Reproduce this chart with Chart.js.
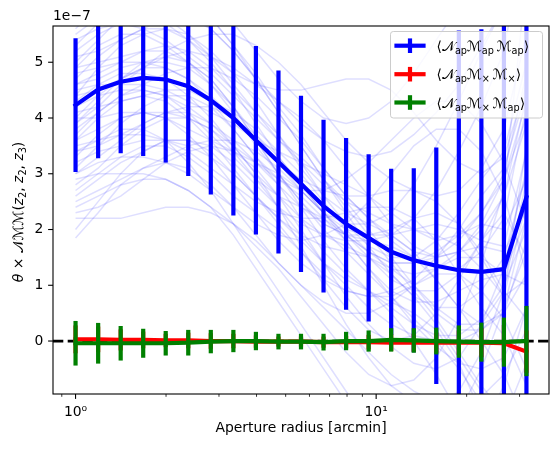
<!DOCTYPE html>
<html>
<head>
<meta charset="utf-8">
<script src="https://cdn.jsdelivr.net/npm/chart.js@4.4.1/dist/chart.umd.min.js"></script>
<style>
  html, body { margin: 0; padding: 0; background: #fff; }
  #wrap { width: 558px; height: 452px; }
</style>
</head>
<body>
<div id="wrap"><canvas id="chart" width="558" height="452"></canvas></div>
<script>
// aperture radii [arcmin]
const radii = [1.000, 1.189, 1.413, 1.679, 1.995, 2.371, 2.818, 3.350, 3.981, 4.732,
               5.623, 6.683, 7.943, 9.441, 11.22, 13.34, 15.85, 18.84, 22.39, 26.61, 31.62];

// all values in units of 1e-7
const mapMean = [4.23, 4.51, 4.65, 4.72, 4.69, 4.57, 4.32, 4.00, 3.60, 3.21,
                 2.82, 2.42, 2.10, 1.85, 1.60, 1.45, 1.35, 1.27, 1.24, 1.29, 2.58];
const mapErr = [1.20, 1.23, 1.28, 1.40, 1.49, 1.61, 1.69, 1.75, 1.69, 1.64,
                1.58, 1.55, 1.54, 1.50, 1.49, 1.65, 2.12, 4.30, 4.35, 4.60, 3.75];

const crossMean = [0.03, 0.03, 0.02, 0.02, 0.01, 0.01, 0.00, 0.00, -0.01, -0.01,
                   -0.01, -0.02, -0.02, -0.02, -0.03, -0.03, -0.03, -0.03, -0.03, -0.04, -0.19];
const crossErr = [0.25, 0.23, 0.19, 0.15, 0.12, 0.14, 0.14, 0.13, 0.11, 0.09,
                  0.09, 0.10, 0.11, 0.13, 0.15, 0.16, 0.18, 0.22, 0.26, 0.33, 0.38];

const mixMean = [-0.04, -0.04, -0.04, -0.04, -0.04, -0.03, -0.01, 0.00, 0.00, -0.01,
                 -0.01, -0.02, 0.00, 0.00, 0.02, 0.01, 0.00, -0.01, -0.02, -0.02, 0.00];
const mixErr = [0.40, 0.365, 0.31, 0.26, 0.22, 0.23, 0.21, 0.20, 0.165, 0.14,
                0.14, 0.15, 0.165, 0.19, 0.21, 0.22, 0.24, 0.29, 0.35, 0.44, 0.63];

// individual realisations drawn as faint lines
const realisations = [
  [5.6,6.0,6.3,6.4,6.3,6.1,5.8,5.3,4.8,4.2,3.7,3.1,2.6,2.2,1.9,1.6,1.5,1.6,2.0,2.6,3.9],
  [5.2,5.5,5.7,5.9,6.0,5.9,5.6,5.2,4.7,4.3,3.9,3.6,3.4,3.3,3.4,3.7,4.1,4.6,5.3,6.0,7.2],
  [4.9,5.3,5.5,5.5,5.3,5.0,4.6,4.1,3.5,3.0,2.5,2.0,1.6,1.2,0.8,0.4,0.0,-0.5,-1.1,-1.8,-2.6],
  [4.6,4.8,5.0,5.2,5.3,5.2,4.9,4.5,4.1,3.7,3.2,2.6,2.1,1.7,1.5,1.5,1.8,2.3,2.9,3.4,5.0],
  [4.4,4.9,5.3,5.5,5.6,5.5,5.2,4.8,4.3,3.7,3.1,2.6,2.3,2.1,1.9,1.6,1.1,0.6,0.3,0.5,1.8],
  [4.1,4.2,4.3,4.4,4.5,4.5,4.3,4.1,3.8,3.4,3.0,2.5,2.0,1.6,1.3,1.2,1.3,1.5,1.5,1.2,2.2],
  [3.9,4.3,4.7,5.0,5.1,5.0,4.7,4.2,3.6,3.0,2.5,2.1,1.9,1.9,2.0,2.2,2.3,2.1,1.6,0.9,0.4],
  [3.6,3.8,4.0,4.1,4.1,4.0,3.8,3.5,3.2,2.9,2.6,2.2,1.8,1.3,0.8,0.3,-0.1,-0.4,-0.5,-0.3,0.6],
  [3.3,3.7,4.0,4.1,4.0,3.7,3.3,2.8,2.3,1.8,1.4,1.1,0.9,0.8,0.9,1.1,1.5,2.0,2.6,3.1,4.5],
  [3.0,3.3,3.6,3.9,4.1,4.2,4.2,4.0,3.7,3.3,2.8,2.3,1.9,1.6,1.4,1.4,1.6,1.9,2.1,2.0,2.9],
  [2.8,3.1,3.5,3.8,4.0,4.0,3.8,3.4,2.9,2.4,1.9,1.4,1.0,0.6,0.3,0.1,0.0,0.0,0.2,0.6,1.6],
  [2.5,2.7,2.9,3.1,3.3,3.5,3.6,3.6,3.4,3.1,2.7,2.3,2.0,1.9,1.9,2.0,2.1,2.0,1.8,1.7,3.4],
  [2.2,2.2,2.2,2.3,2.4,2.4,2.3,2.1,1.8,1.4,1.0,0.6,0.2,-0.2,-0.6,-0.9,-1.1,-1.2,-1.0,-0.6,0.2],
  [1.85,2.3,2.8,3.1,3.2,3.1,2.8,2.4,1.9,1.4,1.0,0.7,0.5,0.5,0.7,1.0,1.2,1.2,0.9,0.4,-0.5],
  [5.5,5.8,6.0,6.0,5.8,5.5,5.1,4.6,4.1,3.6,3.2,2.8,2.5,2.3,2.1,2.0,1.9,1.7,1.3,0.8,2.5],
  [4.8,4.9,5.0,5.0,4.9,4.7,4.4,4.0,3.6,3.2,2.9,2.7,2.6,2.6,2.7,2.7,2.5,2.1,1.5,0.8,1.1],
  [4.3,4.6,4.8,4.8,4.7,4.4,4.0,3.5,3.0,2.6,2.2,1.9,1.7,1.5,1.2,0.8,0.3,-0.3,-0.9,-1.4,-0.4],
  [3.8,4.1,4.4,4.6,4.8,4.9,4.9,4.7,4.4,4.0,3.6,3.1,2.6,2.2,1.8,1.5,1.3,1.3,1.6,2.2,4.2],
  [3.5,3.6,3.7,3.7,3.6,3.4,3.1,2.8,2.5,2.3,2.2,2.2,2.3,2.4,2.4,2.2,1.8,1.2,0.6,0.1,-0.8],
  [5.0,5.4,5.8,6.1,6.2,6.1,5.8,5.3,4.7,4.1,3.5,2.9,2.3,1.7,1.2,0.8,0.6,0.6,0.9,1.5,3.0],
  [4.0,4.0,4.1,4.1,4.0,3.8,3.6,3.4,3.2,3.0,2.7,2.3,1.8,1.3,0.9,0.7,0.7,0.9,1.1,1.2,1.0],
  [2.6,2.9,3.2,3.4,3.6,3.6,3.5,3.2,2.8,2.4,2.1,1.9,1.8,1.8,1.7,1.5,1.1,0.6,0.0,-0.6,-1.5],
  [4.7,5.1,5.4,5.6,5.6,5.4,5.0,4.5,3.9,3.3,2.8,2.3,1.9,1.6,1.4,1.4,1.5,1.8,2.3,3.0,4.8],
  [3.2,3.4,3.5,3.6,3.6,3.5,3.3,3.0,2.6,2.1,1.6,1.2,0.9,0.8,0.8,1.0,1.3,1.6,1.7,1.6,2.4],
  [5.4,5.6,5.7,5.6,5.4,5.1,4.8,4.4,4.0,3.6,3.3,2.9,2.5,2.0,1.5,1.0,0.5,0.2,0.2,0.5,1.2],
  [4.5,4.6,4.6,4.6,4.5,4.3,4.1,3.9,3.6,3.4,3.2,3.0,2.8,2.6,2.3,2.0,1.8,1.9,2.3,2.9,4.0],
  [2.0,2.5,3.0,3.4,3.6,3.6,3.4,3.0,2.6,2.2,1.8,1.4,1.1,0.9,0.6,0.3,0.1,0.1,0.4,1.0,2.0],
  [3.7,4.1,4.4,4.5,4.4,4.1,3.7,3.3,2.9,2.6,2.4,2.2,1.9,1.5,1.1,0.9,0.9,1.2,1.8,2.6,4.4],
  [3.4,3.6,3.8,3.8,3.6,3.2,2.7,2.1,1.5,0.9,0.3,-0.3,-0.9,-1.5,-2.0,-2.3,-2.4,-2.2,-1.6,-0.8,0.6],
  [4.2,4.4,4.5,4.5,4.4,4.2,3.9,3.5,3.0,2.4,1.7,1.0,0.3,-0.3,-0.8,-1.1,-1.2,-0.9,-0.2,0.9,3.5],
  [2.9,3.0,3.0,3.0,2.9,2.7,2.4,2.1,1.7,1.3,0.8,0.3,-0.2,-0.6,-0.8,-0.7,-0.3,0.4,1.4,2.7,6.5],
  [5.3,5.7,6.1,6.4,6.5,6.4,6.1,5.7,5.2,4.7,4.3,4.0,3.9,4.0,4.3,4.8,5.4,6.0,6.5,6.8,8.0],
  [3.1,3.5,3.9,4.2,4.4,4.4,4.2,3.8,3.3,2.8,2.2,1.6,1.2,0.9,0.7,0.5,0.2,-0.4,-1.3,-2.4,-4.0],
  [4.6,4.7,4.9,5.0,5.0,4.9,4.6,4.2,3.7,3.2,2.7,2.3,2.1,2.1,2.3,2.8,3.5,4.3,5.2,6.0,6.8],
  [2.4,2.6,2.8,2.9,2.9,2.7,2.4,1.9,1.3,0.7,0.1,-0.5,-1.1,-1.6,-1.9,-2.0,-1.8,-1.3,-0.5,0.6,2.2],
  [3.9,4.2,4.6,4.9,5.2,5.4,5.5,5.5,5.3,5.0,4.6,4.1,3.6,3.2,2.9,2.7,2.6,2.7,3.1,3.8,5.5],
  [4.9,5.0,5.1,5.2,5.2,5.0,4.7,4.2,3.6,3.0,2.4,1.8,1.3,0.9,0.5,0.0,-0.6,-1.3,-2.0,-2.6,-1.0],
  [3.4,3.5,3.7,3.9,4.1,4.1,3.9,3.6,3.2,2.8,2.4,2.1,1.9,1.8,1.9,2.2,2.7,3.4,4.2,5.2,7.5],
  [5.7,5.9,6.0,5.9,5.7,5.4,5.1,4.8,4.6,4.5,4.5,4.6,4.7,4.7,4.5,4.1,3.6,3.2,3.0,3.3,4.6],
  [4.0,4.4,4.7,4.9,4.9,4.7,4.3,3.8,3.3,2.9,2.7,2.7,2.9,3.2,3.6,4.0,4.3,4.3,3.9,3.2,2.1],
  [2.3,2.4,2.6,2.9,3.2,3.4,3.5,3.4,3.1,2.6,2.0,1.4,0.8,0.3,-0.1,-0.4,-0.5,-0.3,0.3,1.3,3.1],
  [3.0,3.2,3.3,3.3,3.2,3.0,2.7,2.4,2.1,1.9,1.8,1.9,2.1,2.5,3.0,3.5,3.8,3.8,3.4,2.6,1.2],
  [5.1,5.2,5.4,5.6,5.8,5.8,5.6,5.2,4.7,4.1,3.5,2.9,2.4,1.9,1.4,0.9,0.4,-0.2,-0.8,-1.3,-2.0],
  [3.6,4.0,4.3,4.4,4.3,4.0,3.6,3.1,2.6,2.2,1.9,1.7,1.6,1.5,1.3,1.0,0.6,0.3,0.3,0.9,2.9],
  [4.4,4.5,4.7,4.9,5.1,5.2,5.1,4.9,4.6,4.3,4.0,3.6,3.1,2.6,2.1,1.7,1.5,1.6,2.1,2.9,4.3],
  [2.7,3.0,3.3,3.5,3.5,3.3,3.0,2.6,2.3,2.0,1.6,1.1,0.6,0.2,0.0,0.1,0.5,1.1,1.8,2.3,1.5]
];

const xMajorTicks = [1, 10];
const xTickLabels = ['10\u2070', '10\u00b9'];
const xMinorTicks = [0.9, 2, 3, 4, 5, 6, 7, 8, 9, 20, 30];
const yTicks = [0, 1, 2, 3, 4, 5];
const yTickLabels = ['0', '1', '2', '3', '4', '5'];
const yOffsetText = '1e\u22127';
const xTitle = 'Aperture radius [arcmin]';
const yTitle = '*θ* × 𝒩ℳℳ(*z*_{2}, *z*_{2}, *z*_{3})';
const seriesLabels = [
  '⟨𝒩_{ap}ℳ_{ap}\u2009ℳ_{ap}⟩',
  '⟨𝒩_{ap}ℳ_{×}\u2009ℳ_{×}⟩',
  '⟨𝒩_{ap}ℳ_{×}\u2009ℳ_{ap}⟩'
];
const seriesColors = ['#0000ff', '#ff0000', '#008000'];

const xMin = Math.pow(10, -0.075), xMax = Math.pow(10, 1.575);
const yMin = -0.95, yMax = 5.65;
const FS = 13.9;

Chart.defaults.font.family = "'DejaVu Sans', sans-serif";
Chart.defaults.font.size = FS;
Chart.defaults.color = '#000';

const datasets = [];
realisations.forEach((r, k) => datasets.push({
  type: 'line', label: 'realisation ' + (k + 1),
  data: radii.map((x, i) => ({ x: x, y: r[i] })),
  borderColor: 'rgba(0,0,255,0.13)', borderWidth: 1.5,
  pointRadius: 0, tension: 0, order: 100
}));
datasets.push({
  type: 'line', label: 'zero',
  data: [{ x: xMin, y: 0 }, { x: xMax, y: 0 }],
  borderColor: '#000', borderWidth: 2.8, borderDash: [10.3, 4.4],
  pointRadius: 0, order: 60
});
[[mapMean, mapErr], [crossMean, crossErr], [mixMean, mixErr]].forEach(([m, e], s) => {
  datasets.push({
    type: 'bar', label: seriesLabels[s] + ' errors',
    data: radii.map((x, i) => ({ x: x, y: [m[i] - e[i], m[i] + e[i]] })),
    backgroundColor: seriesColors[s], borderWidth: 0, inflateAmount: 0,
    barThickness: 4.2, grouped: false, order: 50 - 10 * s
  });
  datasets.push({
    type: 'line', label: seriesLabels[s],
    data: radii.map((x, i) => ({ x: x, y: m[i] })),
    borderColor: seriesColors[s], borderWidth: 4.2, borderJoinStyle: 'round',
    borderCapStyle: 'square', pointRadius: 0, tension: 0, order: 49 - 10 * s
  });
});

// tiny mathtext: *italic*, _{subscript}
function parseMath(str) {
  const parts = [];
  const re = /_\{([^}]*)\}|\*([^*]+)\*|([^_*]+)/g;
  let m;
  while ((m = re.exec(str))) {
    if (m[1] !== undefined) parts.push({ t: m[1], sub: true });
    else if (m[2] !== undefined) parts.push({ t: m[2], it: true });
    else parts.push({ t: m[3] });
  }
  return parts;
}
function mathFont(p) {
  const s = p.sub ? FS * 0.7 : FS;
  return (p.it ? 'italic ' : '') + s.toFixed(1) + "px 'DejaVu Sans'";
}
function mathWidth(ctx, parts) {
  let w = 0;
  parts.forEach(p => { ctx.font = mathFont(p); w += ctx.measureText(p.t).width; });
  return w;
}
function drawMath(ctx, parts, x, y) {
  parts.forEach(p => {
    ctx.font = mathFont(p);
    ctx.fillText(p.t, x, y + (p.sub ? 3 : 0));
    x += ctx.measureText(p.t).width;
  });
}

const decor = {
  id: 'decor',
  afterDraw(chart) {
    const { ctx, chartArea: ca } = chart;
    const xs = chart.scales.x, ys = chart.scales.y;
    ctx.save();
    ctx.strokeStyle = '#000';
    ctx.fillStyle = '#000';
    const seg = (x0, y0, x1, y1, w) => {
      ctx.lineWidth = w; ctx.beginPath(); ctx.moveTo(x0, y0); ctx.lineTo(x1, y1); ctx.stroke();
    };
    // spines
    ctx.lineWidth = 1.1;
    ctx.strokeRect(ca.left, ca.top, ca.right - ca.left, ca.bottom - ca.top);
    // tick marks
    xMajorTicks.forEach(v => { const p = xs.getPixelForValue(v); seg(p, ca.bottom, p, ca.bottom + 4.9, 1.1); });
    xMinorTicks.forEach(v => { const p = xs.getPixelForValue(v); seg(p, ca.bottom, p, ca.bottom + 2.8, 0.8); });
    yTicks.forEach(v => { const p = ys.getPixelForValue(v); seg(ca.left, p, ca.left - 4.9, p, 1.1); });
    // offset text
    ctx.font = FS + "px 'DejaVu Sans'";
    ctx.textAlign = 'left';
    ctx.textBaseline = 'alphabetic';
    ctx.fillText(yOffsetText, ca.left, ca.top - 6);
    // y title
    const yp = parseMath(yTitle);
    ctx.save();
    ctx.translate(23, (ca.top + ca.bottom) / 2 + 2);
    ctx.rotate(-Math.PI / 2);
    drawMath(ctx, yp, -mathWidth(ctx, yp) / 2, 0);
    ctx.restore();
    // legend
    const L = { x: 390.5, y: 31.5, w: 152, h: 86.5, r: 2.8 };
    ctx.beginPath();
    ctx.moveTo(L.x + L.r, L.y);
    ctx.arcTo(L.x + L.w, L.y, L.x + L.w, L.y + L.h, L.r);
    ctx.arcTo(L.x + L.w, L.y + L.h, L.x, L.y + L.h, L.r);
    ctx.arcTo(L.x, L.y + L.h, L.x, L.y, L.r);
    ctx.arcTo(L.x, L.y, L.x + L.w, L.y, L.r);
    ctx.closePath();
    ctx.fillStyle = 'rgba(255,255,255,0.8)';
    ctx.fill();
    ctx.strokeStyle = '#cccccc';
    ctx.lineWidth = 1;
    ctx.stroke();
    const rowY = [45.7, 74.2, 102.5];
    seriesLabels.forEach((lab, s) => {
      const y = rowY[s];
      ctx.strokeStyle = seriesColors[s];
      ctx.lineCap = 'square';
      seg(396.5, y, 423.5, y, 4.2);
      ctx.lineCap = 'butt';
      seg(410, y - 7.3, 410, y + 7.3, 4.2);
      ctx.fillStyle = '#000';
      drawMath(ctx, parseMath(lab), 436.5, y + 5);
    });
    ctx.restore();
  }
};

new Chart(document.getElementById('chart').getContext('2d'), {
  type: 'line',
  data: { datasets: datasets },
  options: {
    responsive: false,
    animation: false,
    layout: { padding: { top: 26, right: 9, left: 0, bottom: 0 } },
    plugins: { legend: { display: false }, tooltip: { enabled: false } },
    scales: {
      x: {
        type: 'logarithmic', min: xMin, max: xMax, offset: false, bounds: 'data',
        grid: { display: false, drawTicks: false }, border: { display: false },
        ticks: {
          autoSkip: false, maxRotation: 0, minRotation: 0, padding: 10,
          font: { size: FS }, color: '#000',
          callback: v => { const k = xMajorTicks.indexOf(v); return k >= 0 ? xTickLabels[k] : ''; }
        },
        afterBuildTicks: s => {
          s.ticks = xMinorTicks.concat(xMajorTicks).sort((a, b) => a - b).map(v => ({ value: v }));
        },
        afterFit: s => { s.height = 58; },
        title: { display: true, text: xTitle, font: { size: FS }, color: '#000', padding: { top: 0, bottom: 15.5 } }
      },
      y: {
        type: 'linear', min: yMin, max: yMax, bounds: 'data',
        grid: { display: false, drawTicks: false }, border: { display: false },
        ticks: {
          padding: 9.7, font: { size: FS }, color: '#000',
          callback: v => { const k = yTicks.indexOf(v); return k >= 0 ? yTickLabels[k] : ''; }
        },
        afterBuildTicks: s => { s.ticks = yTicks.map(v => ({ value: v })); },
        afterFit: s => { s.width = 53; }
      }
    }
  },
  plugins: [decor]
});
</script>
</body>
</html>
